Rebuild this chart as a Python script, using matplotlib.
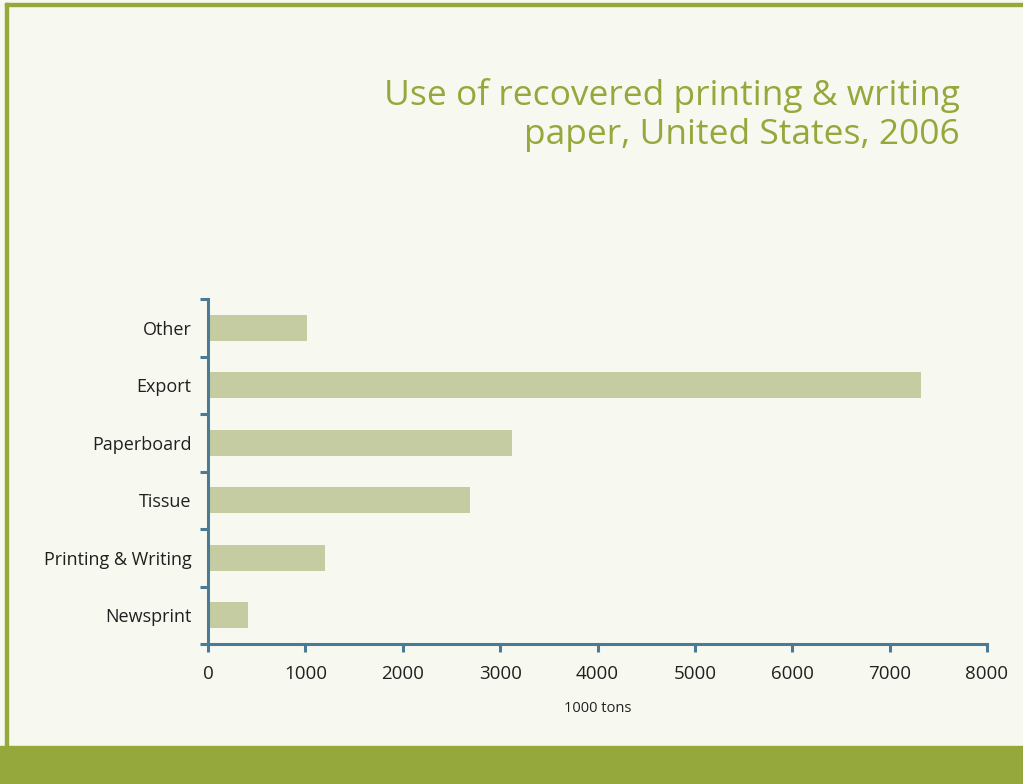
import matplotlib
matplotlib.use("Agg")
import matplotlib.pyplot as plt
from matplotlib.patches import Rectangle

categories = ["Newsprint", "Printing & Writing", "Tissue", "Paperboard", "Export", "Other"]
values = [410, 1200, 2690, 3120, 7320, 1020]
xticks = [0, 1000, 2000, 3000, 4000, 5000, 6000, 7000, 8000]

title = "Use of recovered printing & writing\npaper, United States, 2006"
xlabel = "1000 tons"

bg = "#f7f9f0"
green = "#95a83c"
bar_color = "#c6cca2"
axis_color = "#4b7a95"
text_color = "#231f20"

W, H = 1023, 784
fig = plt.figure(figsize=(W / 100, H / 100), dpi=100)
fig.patch.set_facecolor(bg)

# frame decoration
fig.add_artist(Rectangle((0, 0), 1, 38 / H, transform=fig.transFigure, color=green, zorder=0))
fig.add_artist(Rectangle((5 / W, 38 / H), 2.5 / W, 1 - 41 / H, transform=fig.transFigure, color=green, zorder=0))
fig.add_artist(Rectangle((5 / W, 1 - 5.5 / H), 1, 2.5 / H, transform=fig.transFigure, color=green, zorder=0))

ax = fig.add_axes([208 / W, 1 - 644 / H, (987 - 208) / W, (644 - 299) / H])
ax.set_facecolor("none")

pos = list(range(len(categories)))
ax.barh(pos, values, height=0.45, color=bar_color, zorder=2)

ax.set_xlim(0, 8000)
ax.set_ylim(-0.5, len(categories) - 0.5)

for s in ["top", "right"]:
    ax.spines[s].set_visible(False)
for s in ["left", "bottom"]:
    ax.spines[s].set_color(axis_color)
    ax.spines[s].set_linewidth(2.2)

ax.set_xticks(xticks)
ax.set_xticklabels([str(t) for t in xticks], fontsize=13.5, color=text_color, family="Open Sans")
ax.tick_params(axis="x", length=6, width=2.2, color=axis_color, pad=9)

ax.set_yticks([p - 0.5 for p in pos] + [len(categories) - 0.5])
ax.set_yticklabels([])
ax.tick_params(axis="y", which="major", length=6, width=2.2, color=axis_color)
ax.set_yticks(pos, minor=True)
ax.set_yticklabels(categories, minor=True, fontsize=13, color=text_color, family="Open Sans")
ax.tick_params(axis="y", which="minor", length=0, pad=12)

ax.set_xlabel(xlabel, fontsize=10.5, color=text_color, family="Open Sans", labelpad=13)

fig.text(960 / W, 1 - 78 / H, title, ha="right", va="top", fontsize=25.5, color=green,
         family="Open Sans", linespacing=1.2)

fig.savefig("out.png", dpi=100, facecolor=bg)
